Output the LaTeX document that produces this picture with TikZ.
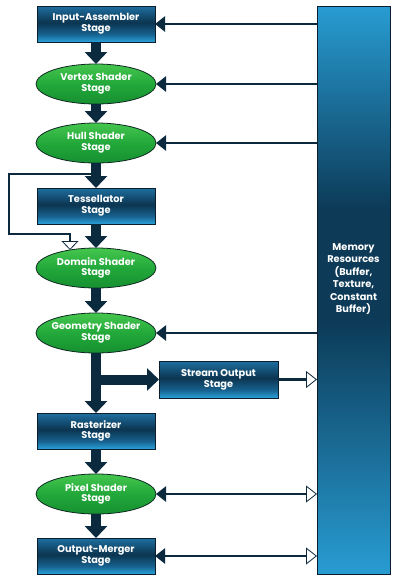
\documentclass[tikz,border=0pt]{standalone}
\usepackage{fontspec}
\setmainfont{Poppins}
\usetikzlibrary{arrows.meta,shapes.geometric,calc}
\definecolor{navy}{HTML}{0B2A3E}
\definecolor{boxline}{HTML}{0A1E2E}
\definecolor{bxbot}{HTML}{2AA2DA}
\definecolor{bxlow}{HTML}{17618E}
\definecolor{bxmid}{HTML}{0C3550}
\definecolor{bxtop}{HTML}{1E6FA0}
\definecolor{gtop}{HTML}{45C64E}
\definecolor{gmid}{HTML}{22A83A}
\definecolor{gbot}{HTML}{169030}
\definecolor{ellline}{HTML}{0E2A22}
\definecolor{memlight}{HTML}{289CD2}
\definecolor{memdark}{HTML}{0C3A57}
\pgfdeclareverticalshading{stagebox}{100bp}{color(0bp)=(bxbot); color(25bp)=(bxbot); color(36bp)=(bxlow); color(52bp)=(bxmid); color(75bp)=(bxtop); color(100bp)=(bxtop)}
\begin{document}
\begin{tikzpicture}[x=1pt,y=-1pt,
  txt/.style={text=white, font=\bfseries\fontsize{9.8}{10.8}\selectfont, align=center},
  box/.style={rectangle, draw=boxline, line width=0.8pt, shading=stagebox, minimum width=118pt, minimum height=36pt, inner sep=0pt, outer sep=0pt, txt},
  ell/.style={ellipse, draw=ellline, line width=0.8pt, top color=gtop, bottom color=gbot, middle color=gmid, minimum width=120pt, minimum height=40pt, inner sep=0pt, outer sep=0pt},
  flow/.style={draw=navy, line width=10pt, -{Triangle[width=22pt,length=12pt]}},
  memline/.style={draw=navy, line width=2.6pt},
  intip/.style={-{Triangle[width=15pt,length=10pt]}},
  bothtip/.style={{Triangle[width=15pt,length=10pt]}-{Triangle[width=17pt,length=11pt,fill=white,line width=0.8pt]}},
  outtip/.style={-{Triangle[width=17pt,length=11pt,fill=white,line width=0.8pt]}},
]
\useasboundingbox (0,0) rectangle (400,582);
\fill[white] (0,0) rectangle (400,582);

% memory
\shade[top color=memlight, bottom color=memdark] (317,6) rectangle (390,210);
\fill[memdark] (317,209.5) rectangle (390,320.5);
\shade[top color=memdark, bottom color=memlight] (317,320) rectangle (390,574);
\node[rectangle, draw=boxline, line width=0.8pt, minimum width=73pt, minimum height=568pt, inner sep=0pt, outer sep=0pt] (mem) at (353.5,290) {};
\node[txt, font=\bfseries\fontsize{9.8}{12.4}\selectfont] (memtxt) at (353.5,279) {Memory\\Resources\\(Buffer,\\Texture,\\Constant\\Buffer)};

% stages
\node[box] (ia) at (96,24) {Input-Assembler\\Stage};
\node[ell, label={[txt]center:Vertex Shader\\Stage}] (vs) at (96,84) {};
\node[ell, label={[txt]center:Hull Shader\\Stage}] (hs) at (96,143) {};
\node[box] (ts) at (96,206) {Tessellator\\Stage};
\node[ell, label={[txt]center:Domain Shader\\Stage}] (ds) at (96,268) {};
\node[ell, label={[txt]center:Geometry Shader\\Stage}] (gs) at (96,333) {};
\node[box, minimum width=119pt, minimum height=37pt] (so) at (218.5,379.5) {Stream Output\\Stage};
\node[box] (rs) at (96,431) {Rasterizer\\Stage};
\node[ell, label={[txt]center:Pixel Shader\\Stage}] (ps) at (96,494) {};
\node[box] (om) at (96,556) {Output-Merger\\Stage};

% main flow
\draw[flow] (ia) -- (vs);
\draw[flow] (vs) -- (hs);
\draw[flow] (hs) -- (ts);
\draw[flow] (ts) -- (ds);
\draw[flow] (gs.south) -- (rs.north);
\draw[flow] (ds) -- (gs);
\coordinate (br) at (gs.south |- so.west);
\draw[flow] (br) -- (so.west);
\draw[flow] (rs) -- (ps);
\draw[flow] (ps) -- (om);

% feedback
\coordinate (fbs) at (96,174);
\coordinate (fbl) at (9,234);
\coordinate (fbe) at (70,250);
\draw[navy, line width=2.6pt, -{Triangle[width=17pt,length=9pt,fill=white,line width=0.8pt]}] (fbs) -| (fbl) -| (fbe);

% memory connections
\draw[memline, intip] (mem.west |- ia.east) -- (ia.east);
\draw[memline, intip] (mem.west |- vs.east) -- (vs.east);
\draw[memline, intip] (mem.west |- hs.east) -- (hs.east);
\draw[memline, intip] (mem.west |- gs.east) -- (gs.east);
\draw[memline, outtip] (so.east) -- (mem.west |- so.east);
\draw[memline, bothtip] (ps.east) -- (mem.west |- ps.east);
\draw[memline, bothtip] (om.east) -- (mem.west |- om.east);
\end{tikzpicture}
\end{document}
